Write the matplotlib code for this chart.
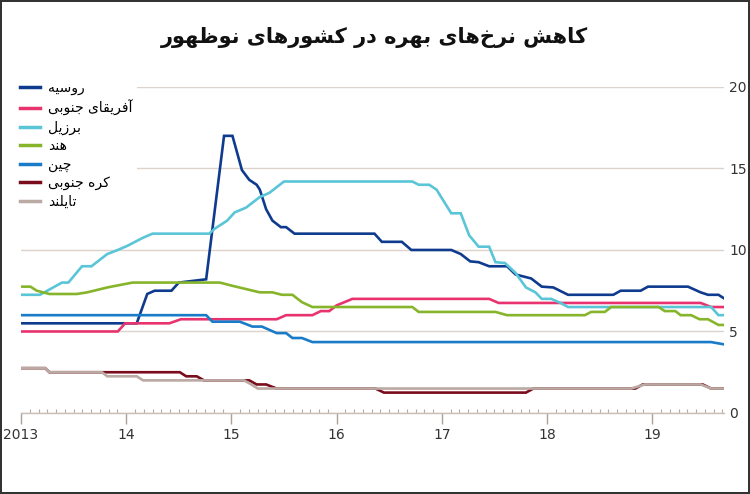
import matplotlib
matplotlib.use('Agg')
import matplotlib.pyplot as plt
import numpy as np

# --- text (Persian) ---
title = 'کاهش نرخ‌های بهره در کشورهای نوظهور'
names = ['روسیه', 'آفریقای جنوبی', 'برزیل', 'هند', 'چین', 'کره جنوبی', 'تایلند']
colors = ['#0e3b8e', '#e8336e', '#5bc5d8', '#86b52b', '#1a7bc8', '#7b0c1c', '#bba9a3']

# --- data: breakpoints (decimal year, rate %) ---
rus_x = [2013.0, 2014.1, 2014.2, 2014.27, 2014.43, 2014.5, 2014.76, 2014.93, 2015.01, 2015.1,
         2015.17, 2015.24, 2015.27, 2015.33, 2015.39, 2015.47, 2015.52, 2015.6, 2016.36, 2016.43,
         2016.62, 2016.71, 2017.09, 2017.18, 2017.27, 2017.35, 2017.45, 2017.62, 2017.7, 2017.85,
         2017.95, 2018.06, 2018.2, 2018.63, 2018.7, 2018.89, 2018.96, 2019.34, 2019.46, 2019.53,
         2019.63, 2019.69]
rus_y = [5.5, 5.5, 7.3, 7.5, 7.5, 8.0, 8.2, 17.0, 17.0, 14.9,
         14.3, 14.0, 13.7, 12.5, 11.8, 11.4, 11.4, 11.0, 11.0, 10.5,
         10.5, 10.0, 10.0, 9.75, 9.3, 9.25, 9.0, 9.0, 8.5, 8.25,
         7.75, 7.7, 7.25, 7.25, 7.5, 7.5, 7.75, 7.75, 7.4, 7.25,
         7.25, 7.0]

sa_x = [2013.0, 2013.92, 2013.99, 2014.41, 2014.52, 2015.43, 2015.52, 2015.77, 2015.85, 2015.93,
        2016.0, 2016.15, 2017.45, 2017.54, 2019.46, 2019.56, 2019.69]
sa_y = [5.0, 5.0, 5.5, 5.5, 5.75, 5.75, 6.0, 6.0, 6.25, 6.25,
        6.6, 7.0, 7.0, 6.75, 6.75, 6.5, 6.5]

bra_x = [2013.0, 2013.18, 2013.25, 2013.39, 2013.45, 2013.58, 2013.67, 2013.82, 2013.92, 2014.01,
         2014.16, 2014.25, 2014.79, 2014.84, 2014.96, 2015.03, 2015.14, 2015.27, 2015.36, 2015.5,
         2016.72, 2016.78, 2016.88, 2016.95, 2017.09, 2017.18, 2017.26, 2017.35, 2017.45, 2017.51,
         2017.6, 2017.7, 2017.8, 2017.89, 2017.95, 2018.04, 2018.13, 2018.2, 2019.56, 2019.63,
         2019.69]
bra_y = [7.25, 7.25, 7.5, 8.0, 8.0, 9.0, 9.0, 9.75, 10.0, 10.25,
         10.75, 11.0, 11.0, 11.3, 11.8, 12.3, 12.6, 13.25, 13.5, 14.2,
         14.2, 14.0, 14.0, 13.7, 12.25, 12.25, 10.9, 10.2, 10.2, 9.25,
         9.2, 8.6, 7.7, 7.4, 7.0, 7.0, 6.75, 6.5, 6.5, 6.0,
         6.0]

ind_x = [2013.0, 2013.09, 2013.15, 2013.27, 2013.53, 2013.63, 2013.82, 2013.94, 2014.06, 2014.89,
         2015.01, 2015.14, 2015.27, 2015.39, 2015.48, 2015.58, 2015.67, 2015.77, 2016.72, 2016.78,
         2017.51, 2017.62, 2018.36, 2018.42, 2018.55, 2018.61, 2019.06, 2019.12, 2019.22, 2019.27,
         2019.37, 2019.45, 2019.53, 2019.63, 2019.69]
ind_y = [7.75, 7.75, 7.5, 7.3, 7.3, 7.4, 7.7, 7.85, 8.0, 8.0,
         7.8, 7.6, 7.4, 7.4, 7.25, 7.25, 6.8, 6.5, 6.5, 6.2,
         6.2, 6.0, 6.0, 6.2, 6.2, 6.5, 6.5, 6.25, 6.25, 6.0,
         6.0, 5.75, 5.75, 5.4, 5.4]

chn_x = [2013.0, 2014.76, 2014.82, 2015.08, 2015.2, 2015.29, 2015.43, 2015.52, 2015.58, 2015.67,
         2015.77, 2019.56, 2019.69]
chn_y = [6.0, 6.0, 5.6, 5.6, 5.3, 5.3, 4.9, 4.9, 4.6, 4.6,
         4.35, 4.35, 4.2]

kor_x = [2013.0, 2013.23, 2013.27, 2014.51, 2014.57, 2014.67, 2014.74, 2015.17, 2015.24, 2015.33,
         2015.43, 2016.37, 2016.45, 2017.8, 2017.87, 2018.84, 2018.91, 2019.48, 2019.56, 2019.69]
kor_y = [2.75, 2.75, 2.5, 2.5, 2.25, 2.25, 2.0, 2.0, 1.75, 1.75,
         1.5, 1.5, 1.25, 1.25, 1.5, 1.5, 1.75, 1.75, 1.5, 1.5]

tha_x = [2013.0, 2013.23, 2013.27, 2013.77, 2013.82, 2014.1, 2014.16, 2015.12, 2015.19, 2015.25,
         2018.8, 2018.93, 2019.46, 2019.56, 2019.69]
tha_y = [2.75, 2.75, 2.5, 2.5, 2.25, 2.25, 2.0, 2.0, 1.75, 1.5,
         1.5, 1.75, 1.75, 1.5, 1.5]

series = [(rus_x, rus_y), (sa_x, sa_y), (bra_x, bra_y), (ind_x, ind_y),
          (chn_x, chn_y), (kor_x, kor_y), (tha_x, tha_y)]

years = [2013, 2014, 2015, 2016, 2017, 2018, 2019]
year_labels = ['2013', '14', '15', '16', '17', '18', '19']


# matplotlib has no arabic shaping, so pick presentation forms by hand
# (isolated, final, initial, medial); None = letter does not join forward
FORMS = {
    'ا': ('\uFE8D', '\uFE8E', None, None),
    'آ': ('\uFE81', '\uFE82', None, None),
    'ب': ('\uFE8F', '\uFE90', '\uFE91', '\uFE92'),
    'ت': ('\uFE95', '\uFE96', '\uFE97', '\uFE98'),
    'ج': ('\uFE9D', '\uFE9E', '\uFE9F', '\uFEA0'),
    'خ': ('\uFEA5', '\uFEA6', '\uFEA7', '\uFEA8'),
    'د': ('\uFEA9', '\uFEAA', None, None),
    'ر': ('\uFEAD', '\uFEAE', None, None),
    'ز': ('\uFEAF', '\uFEB0', None, None),
    'س': ('\uFEB1', '\uFEB2', '\uFEB3', '\uFEB4'),
    'ش': ('\uFEB5', '\uFEB6', '\uFEB7', '\uFEB8'),
    'ظ': ('\uFEC5', '\uFEC6', '\uFEC7', '\uFEC8'),
    'ف': ('\uFED1', '\uFED2', '\uFED3', '\uFED4'),
    'ق': ('\uFED5', '\uFED6', '\uFED7', '\uFED8'),
    'ل': ('\uFEDD', '\uFEDE', '\uFEDF', '\uFEE0'),
    'ن': ('\uFEE5', '\uFEE6', '\uFEE7', '\uFEE8'),
    'ه': ('\uFEE9', '\uFEEA', '\uFEEB', '\uFEEC'),
    'و': ('\uFEED', '\uFEEE', None, None),
    'ی': ('\uFBFC', '\uFBFD', '\uFBFE', '\uFBFF'),
    'ک': ('\uFB8E', '\uFB8F', '\uFB90', '\uFB91'),
    'چ': ('\uFB7A', '\uFB7B', '\uFB7C', '\uFB7D'),
}


def fa(txt):
    out = []
    for i, c in enumerate(txt):
        if c not in FORMS:
            out.append(c)
            continue
        prev = txt[i - 1] if i > 0 else ''
        nxt = txt[i + 1] if i + 1 < len(txt) else ''
        jp = prev in FORMS and FORMS[prev][2] is not None
        jn = nxt in FORMS and FORMS[c][2] is not None
        iso, fin, ini, med = FORMS[c]
        if jp and jn:
            out.append(med)
        elif jp:
            out.append(fin)
        elif jn:
            out.append(ini)
        else:
            out.append(iso)
    return ''.join(reversed(out)).replace('\u200c', '')


plt.rcParams['font.family'] = ['DejaVu Sans']

fig = plt.figure(figsize=(7.5, 4.94), dpi=100)
fig.patch.set_facecolor('white')
fig.patch.set_edgecolor('#333333')
fig.patch.set_linewidth(1.5)

ax = fig.add_axes([0.028, 0.164, 0.937, 0.66])

for (xs, ys), name, col in zip(series, names, colors):
    ax.plot(xs, ys, color=col, lw=1.9, label=fa(name), solid_joinstyle='miter')

ax.set_xlim(2013, 2019.68)
ax.set_ylim(0, 20)

ax.set_yticks([0, 5, 10, 15, 20])
ax.yaxis.tick_right()
ax.tick_params(axis='y', length=0, pad=4, labelsize=10, labelcolor='#333333')
ax.grid(axis='y', color='#ddd3cb', lw=1)
ax.set_axisbelow(True)

ax.set_xticks(years)
ax.set_xticklabels(year_labels)
ax.set_xticks(np.arange(2013, 2019.7, 1 / 12), minor=True)
ax.tick_params(axis='x', which='major', direction='out', length=8, width=1,
               color='#aaa29c', labelsize=10, labelcolor='#333333', pad=3)
ax.tick_params(axis='x', which='minor', direction='in', length=3, width=0.8, color='#b5aca6')

for s in ['left', 'right', 'top']:
    ax.spines[s].set_visible(False)
ax.spines['bottom'].set_color('#c8beb6')
ax.spines['bottom'].set_linewidth(1)

leg = ax.legend(loc='upper left', bbox_to_anchor=(16 / 750, 1 - 77 / 494),
                bbox_transform=fig.transFigure, frameon=True, fontsize=10,
                handlelength=1.4, handletextpad=0.6, labelspacing=0.32,
                borderpad=0.3, borderaxespad=0)
leg.get_frame().set_facecolor('white')
leg.get_frame().set_edgecolor('none')
leg.get_frame().set_alpha(1)
for line in leg.get_lines():
    line.set_linewidth(2.5)

fig.text(0.5, 1 - 38 / 494, fa(title), ha='center', va='center',
         fontsize=15, fontweight='bold', color='#111111')

fig.savefig('out.png', dpi=100, facecolor='white', edgecolor=fig.patch.get_edgecolor())
